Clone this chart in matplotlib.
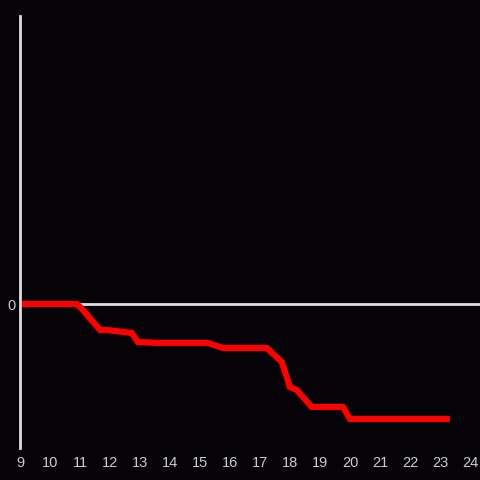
import matplotlib.pyplot as plt

# hours of the day and the running value (same units as the y axis)
hours = [9.0, 10.77, 10.9, 11.1, 11.67, 11.9, 12.73, 12.93, 13.67, 15.27,
         15.77, 17.23, 17.73, 18.0, 18.23, 18.73, 19.77, 20.0, 23.33]
values = [0, 0, 0, -6, -26, -26, -29, -38, -39, -39,
          -44, -44, -58, -83, -86, -103, -103, -115, -115]
xticks = list(range(9, 25))

bg = '#050307'
fg = '#dddddd'

fig = plt.figure(figsize=(4.8, 4.8), dpi=100, facecolor=bg)
ax = fig.add_axes([20 / 480, 32 / 480, 460 / 480, 432 / 480])
ax.set_facecolor(bg)

ax.axhline(0, color=fg, lw=2, zorder=1)
ax.plot(hours, values, color='#ff0000', lw=4.5, solid_joinstyle='miter',
        solid_capstyle='butt', zorder=2)

ax.set_xlim(9, 24 + 1 / 3)
ax.set_ylim(-144, 288)
ax.set_xticks(xticks)
ax.set_xticklabels([str(h) for h in xticks])
ax.set_yticks([0])
ax.set_yticklabels(['0'])
ax.tick_params(length=0, colors='#cccccc', labelsize=10.5)
ax.tick_params(axis='x', pad=6)
ax.tick_params(axis='y', pad=3)
for lab in ax.get_xticklabels() + ax.get_yticklabels():
    lab.set_fontfamily('Liberation Sans')

for side in ['top', 'right', 'bottom']:
    ax.spines[side].set_visible(False)
ax.spines['left'].set_color(fg)
ax.spines['left'].set_linewidth(2)

fig.savefig('out.png', facecolor=bg)
